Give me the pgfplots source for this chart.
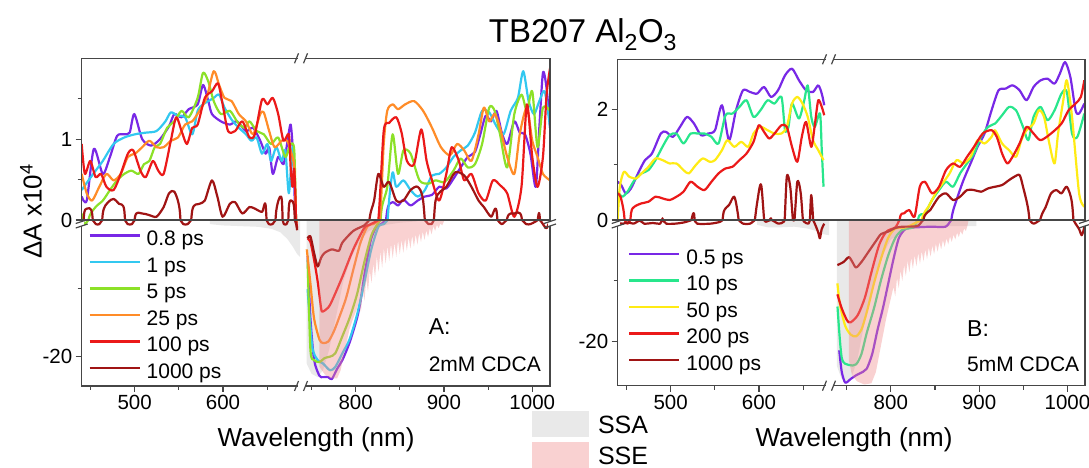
\documentclass[border=0pt]{standalone}
\usepackage{fontspec}
\setmainfont{Liberation Sans}
\usepackage{pgfplots}
\usepackage{pgfplotstable}
\pgfplotsset{compat=1.18}

\definecolor{purA}{RGB}{120,40,230}
\definecolor{cyanA}{RGB}{50,200,240}
\definecolor{limeA}{RGB}{140,225,40}
\definecolor{orA}{RGB}{255,140,40}
\definecolor{redA}{RGB}{235,25,25}
\definecolor{dredA}{RGB}{160,20,20}
\definecolor{grB}{RGB}{40,230,140}
\definecolor{yeB}{RGB}{255,235,20}
\definecolor{framec}{RGB}{70,70,70}
\definecolor{ssac}{RGB}{233,233,233}
\definecolor{ssec}{RGB}{240,140,140}

% ---------------- Panel A data ----------------
\pgfplotstableread{
x y
440.0 0.29
445.7 0.24
453.8 0.88
463.9 0.57
472.0 0.78
480.1 1.04
488.2 1.06
494.3 1.08
499.6 1.31
508.5 1.00
518.6 0.92
528.7 1.00
538.9 1.16
544.9 1.31
553.1 1.27
561.2 1.37
571.3 1.43
577.4 1.67
583.4 1.47
587.5 1.31
597.6 1.22
607.8 1.18
615.9 1.22
626.0 1.10
634.1 1.14
642.2 0.98
648.3 0.82
652.3 0.90
656.4 0.57
662.5 0.78
668.5 0.69
672.6 0.94
676.6 1.18
679.5 0.78
681.9 0.00
683.0 -0.6
nan nan
745.6 -5.3
748.8 -14.4
753.0 -20.5
759.0 -22.8
763.0 -23.0
769.0 -23.0
773.0 -23.3
779.0 -21.8
785.0 -20.5
793.0 -18.0
801.5 -14.4
805.5 -11.9
809.6 -8.3
813.7 -5.3
817.7 -2.7
823.8 -0.9
829.0 -0.6
835.8 0.12
841.9 0.22
848.0 0.18
854.1 0.25
862.2 0.18
870.3 0.24
878.4 0.29
886.5 0.31
894.6 0.41
902.7 0.39
910.8 0.51
918.9 0.65
927.0 0.78
935.1 0.84
941.2 1.06
947.3 1.29
953.4 1.22
959.4 1.35
965.5 1.08
971.6 0.94
979.7 1.22
985.8 1.08
991.8 1.06
997.9 0.82
1004.0 0.41
1008.0 1.14
1012.1 1.82
1016.2 1.63
1020.2 1.14
}\tApu

\pgfplotstableread{
x y
440.0 0.37
447.7 0.49
455.8 0.61
463.9 0.73
476.1 0.94
488.2 1.02
500.4 1.06
512.5 1.08
524.7 1.10
534.8 1.22
540.9 1.33
549.0 1.29
557.1 1.27
565.2 1.06
571.3 1.35
577.4 1.43
583.4 1.47
589.5 1.51
595.6 1.55
601.7 1.39
609.8 1.24
617.9 1.14
626.0 1.06
632.1 0.98
638.1 1.02
644.2 0.82
650.3 0.94
654.4 0.73
660.4 0.90
666.5 0.73
670.6 0.86
674.6 0.33
678.7 0.90
680.7 0.57
682.7 0.00
683.5 -0.4
nan nan
745.6 -10.1
750.8 -18.5
757.0 -20.5
763.0 -21.0
771.0 -22.0
777.0 -21.5
785.0 -19.5
793.0 -17.5
801.5 -13.9
809.6 -9.3
817.7 -4.3
825.8 -1.0
832.0 -0.6
837.9 0.24
841.9 0.59
846.0 0.41
854.1 0.49
862.2 0.37
870.3 0.29
878.4 0.37
886.5 0.55
894.6 0.57
902.7 0.65
910.8 0.78
918.9 0.86
927.0 0.92
935.1 1.08
943.2 1.35
951.3 1.33
959.4 1.16
967.5 1.06
975.6 1.35
983.7 1.51
989.8 1.84
995.9 1.47
1002.0 1.31
1008.0 1.47
1014.1 1.59
1020.2 1.14
}\tAcy

\pgfplotstableread{
x y
440.0 0.08
443.6 -0.6
447.7 0.00
455.8 0.16
463.9 0.24
472.0 0.37
480.1 0.49
488.2 0.57
496.3 0.61
504.4 0.57
510.5 0.69
516.6 0.73
522.7 0.90
528.7 0.94
536.8 1.14
544.9 1.22
553.1 1.35
561.2 1.27
571.3 1.51
577.4 1.82
583.4 1.71
589.5 1.47
597.6 1.31
607.8 1.35
615.9 1.22
624.0 1.14
630.0 1.22
638.1 1.10
646.2 1.06
654.4 0.94
662.5 1.02
670.6 0.78
676.6 0.94
680.7 0.86
682.7 0.00
683.5 -0.4
nan nan
745.6 -5.8
748.8 -19.0
752.9 -20.5
759.0 -20.8
765.0 -20.2
771.0 -20.0
777.0 -19.5
785.0 -17.0
793.0 -14.4
801.5 -10.9
809.6 -6.3
817.7 -2.3
823.8 -0.8
829.0 0.1
835.8 0.41
841.9 1.06
848.0 0.57
854.1 0.86
862.2 0.82
872.3 0.49
882.5 0.45
890.5 0.49
900.7 0.47
910.8 0.61
918.9 0.76
927.0 0.65
935.1 0.69
943.2 0.94
951.3 1.39
957.4 1.35
963.5 1.06
971.6 0.65
979.7 1.31
987.8 1.55
993.9 1.35
1000.0 1.59
1006.0 0.90
1012.1 1.39
1020.2 1.35
}\tAli

\pgfplotstableread{
x y
440.0 0.57
445.7 0.33
451.8 0.24
459.9 0.41
468.0 0.57
476.1 0.49
484.2 0.57
492.3 0.78
500.4 0.82
508.5 0.90
516.6 0.98
524.7 0.90
532.8 0.90
540.9 0.98
549.0 1.02
557.1 1.18
565.2 1.22
573.3 1.35
581.4 1.51
589.5 1.84
595.6 1.67
601.7 1.51
609.8 1.47
617.9 1.31
626.0 1.22
634.1 1.06
642.2 1.31
646.2 1.33
652.3 1.10
658.4 0.90
666.5 0.98
672.6 0.98
676.6 0.86
680.7 0.65
682.7 0.00
683.5 -0.4
nan nan
744.7 -4.3
748.8 -9.3
752.9 -14.4
759.0 -17.5
763.0 -18.0
769.0 -17.8
775.0 -16.4
781.0 -14.4
789.2 -11.4
797.3 -7.3
805.5 -3.3
813.6 -0.9
820.0 -0.6
827.7 0.05
831.8 0.94
835.8 1.35
841.9 1.43
848.0 1.37
856.1 1.43
866.2 1.47
876.4 1.35
886.5 1.14
896.6 0.90
906.8 0.80
914.9 0.94
923.0 0.86
931.1 0.73
939.2 1.06
945.2 1.39
951.3 1.22
957.4 1.31
963.5 1.14
971.6 0.78
979.7 0.57
985.8 1.06
993.9 1.39
1000.0 0.98
1006.0 0.78
1012.1 0.57
1020.2 0.49
}\tAor

\pgfplotstableread{
x y
440.0 0.94
443.6 0.57
449.7 0.73
455.8 0.53
461.9 0.57
468.0 0.41
476.1 0.37
484.2 0.57
492.3 0.82
498.4 0.86
506.5 0.61
512.5 0.53
520.6 0.73
526.7 0.61
532.8 0.57
540.9 0.98
547.0 1.27
553.1 1.10
559.1 0.94
565.2 1.14
571.3 1.18
579.4 1.51
587.5 1.59
594.4 1.69
599.6 1.43
605.7 1.10
613.8 1.10
621.9 1.22
630.0 1.02
636.1 1.06
644.2 1.49
650.3 1.43
656.4 1.51
662.5 1.31
668.5 0.98
674.6 1.06
676.6 0.65
678.7 0.41
680.7 0.63
682.7 0.00
684.0 -1.2
nan nan
745.5 -2.7
748.8 -3.2
752.9 -5.8
757.0 -9.0
761.0 -13.0
763.0 -13.4
769.0 -12.8
773.0 -11.9
785.0 -8.3
797.3 -4.3
809.6 -1.2
815.7 -0.7
825.7 0.0
831.8 1.10
837.9 1.20
846.0 1.27
852.0 1.08
858.1 0.73
866.2 0.69
874.3 1.12
880.4 0.73
886.5 0.49
894.6 0.24
902.7 0.57
908.8 0.90
916.9 0.73
923.0 0.49
931.1 0.57
939.2 0.33
947.3 0.24
955.4 0.49
963.5 0.43
971.6 0.33
979.7 0.04
987.8 0.41
993.9 1.43
1000.0 0.78
1006.0 0.41
1012.1 0.78
1016.2 1.55
1020.2 1.88
}\tAre

\pgfplotstableread{
x y
440.0 -0.6
442.5 0.05
445.7 0.14
451.8 0.08
456.0 -0.6
460.0 -0.6
463.9 0.08
470.0 0.22
476.1 0.26
482.2 0.20
488.2 0.12
492.0 -0.6
497.0 -0.6
500.4 0.04
508.5 0.08
516.6 0.06
524.7 0.04
532.8 0.16
538.9 0.33
545.0 0.35
551.0 0.12
555.0 -0.6
560.0 -0.6
565.2 0.12
573.3 0.20
579.4 0.24
587.5 0.49
593.6 0.29
599.6 0.04
607.8 0.20
613.8 0.22
621.9 0.08
630.0 0.16
636.1 0.14
644.2 0.10
648.3 0.18
652.0 -0.6
656.0 -0.6
660.4 0.12
666.5 0.26
669.0 -0.6
672.0 -0.6
674.6 0.16
677.6 0.24
680.7 0.14
682.7 -0.5
684.0 -1.5
nan nan
745.5 -2.7
748.8 -2.4
752.9 -4.8
757.0 -6.8
761.0 -5.5
765.0 -4.8
773.0 -4.3
781.0 -4.5
785.0 -3.3
797.3 -1.6
809.6 -0.8
815.6 0.0
820.9 0.24
825.7 0.57
831.8 0.41
837.9 0.47
846.0 0.24
854.1 0.24
862.2 0.37
870.3 0.41
876.4 0.24
882.5 -0.6
886.0 -0.6
890.5 0.24
902.7 0.41
912.8 0.59
923.0 0.55
931.1 0.41
939.2 0.24
945.2 0.16
953.4 0.04
959.4 0.12
965.5 -0.6
971.6 0.02
979.7 0.08
987.8 0.04
993.0 -0.6
998.0 -0.6
1004.0 -0.2
1008.0 0.08
1012.1 -0.6
1016.2 -1.2
1020.2 0.0
}\tAdr

\pgfplotstableread{
x y
585 -0.6
600 -0.8
620 -0.9
640 -1.0
655 -1.3
665 -1.8
673 -2.8
679 -3.9
684 -5.0
687.2 -5.4
}\tAssaL

\pgfplotstableread{
x y
744.5 -21.0
750 -22.5
757 -23.0
763 -22.0
770 -19.0
778 -14.0
786 -9.0
795 -5.5
805 -3.0
815 -1.6
830 -0.8
850 -0.4
870 -0.2
}\tAssaR

\pgfplotstableread{
x y
759 -21.5
765 -22.6
772 -23.2
779 -23.2
783 -22.0
787 -19.5
793 -16.0
797 -14.5
801.5 -13.0
804 -11.8
806 -13.5
808 -10.2
810 -11.8
812 -8.6
814 -10.5
816 -7.4
818 -9.2
820 -6.4
822 -8.4
824 -5.3
826 -7.6
828 -4.6
830 -7.0
832 -4.1
834 -6.4
836 -3.8
838 -6.0
840 -3.5
842 -5.6
844 -3.3
846 -5.4
848 -3.0
850 -5.0
852 -2.9
854 -4.8
856 -2.7
858 -4.5
860 -2.5
862 -4.2
864 -2.3
866 -3.9
868 -2.1
870 -3.6
872 -1.9
874 -3.2
876 -1.7
878 -2.9
880 -1.5
882 -2.5
884 -1.2
886 -2.1
888 -0.9
890 -1.6
892 -0.7
894 -1.2
896 -0.5
898 -0.8
900 -0.2
901 0
}\tAsse

% ---------------- Panel B data ----------------
\pgfplotstableread{
x y
440.0 0.69
444.0 0.63
449.1 0.48
455.1 0.57
463.0 0.84
470.9 1.08
478.8 1.20
488.8 1.56
494.7 1.59
502.6 1.50
510.6 1.68
518.5 1.86
526.4 1.74
534.3 1.53
542.3 1.56
550.2 1.62
558.1 2.07
566.1 1.44
574.0 1.98
581.9 2.34
589.8 2.31
597.8 2.28
605.7 2.40
613.6 2.22
621.6 2.34
629.5 2.61
637.4 2.73
645.3 2.52
653.3 2.34
661.2 2.31
667.1 2.43
671.1 2.28
673.9 2.07
nan nan
741.6 -21.4
744.4 -24.9
748.4 -26.7
754.5 -26.1
760.6 -25.5
768.7 -24.9
772.8 -24.4
778.9 -22.0
785.0 -18.0
791.0 -14.5
797.1 -10.4
803.2 -6.3
809.3 -2.9
817.4 -1.4
829.5 -1.2
845.7 -1.1
862.0 -1.1
868.5 0.0
874.4 0.36
882.3 0.72
890.3 1.02
898.2 1.32
906.1 1.56
914.1 1.98
922.0 2.34
929.9 2.37
937.8 2.43
945.8 2.34
953.7 2.16
961.6 2.40
969.6 2.52
977.5 2.55
985.4 2.46
991.4 2.64
997.3 2.85
1003.3 2.58
1009.2 1.98
1013.2 1.92
1019.1 2.10
}\tBpu

\pgfplotstableread{
x y
440.0 0.51
445.2 0.42
451.1 0.51
459.0 0.72
467.0 0.84
474.9 0.90
482.8 1.08
490.7 1.32
498.7 1.53
506.6 1.56
514.5 1.38
522.5 1.56
530.4 1.56
538.3 1.56
546.2 1.50
554.2 1.38
562.1 1.89
570.0 1.92
577.9 2.04
585.9 2.16
593.8 1.86
601.7 1.98
609.7 2.16
617.6 2.10
625.5 2.22
629.5 1.62
633.4 1.68
637.4 2.10
645.3 1.83
651.3 2.16
655.2 2.43
659.2 1.86
663.2 1.68
669.1 1.92
671.1 1.26
673.1 0.60
nan nan
739.6 -14.2
744.4 -22.6
752.5 -23.8
760.6 -23.7
766.7 -22.0
772.8 -18.5
780.9 -14.5
789.0 -9.8
797.1 -5.8
805.2 -2.9
813.3 -1.6
825.5 -1.2
830.8 0.0
838.7 0.12
846.7 0.36
854.6 0.54
862.5 0.69
870.5 0.60
878.4 0.84
886.3 1.02
894.2 1.20
902.2 1.50
910.1 1.68
918.0 1.74
926.0 1.89
933.9 2.04
941.8 1.98
949.7 1.68
955.7 1.44
961.6 1.86
969.6 2.04
977.5 1.80
985.4 1.98
993.3 2.28
999.3 2.31
1005.2 1.56
1011.2 1.50
1019.1 1.92
}\tBgr

\pgfplotstableread{
x y
440.0 0.0
442.4 0.60
447.1 0.87
453.1 0.78
461.0 0.75
467.0 0.84
474.9 0.96
482.8 1.11
490.7 1.08
498.7 1.02
506.6 1.02
514.5 0.90
520.5 0.84
528.4 0.99
536.3 1.11
544.3 1.05
550.2 1.08
558.1 1.26
564.1 1.44
572.0 1.32
579.9 1.41
587.9 1.32
593.8 1.56
601.7 1.68
609.7 1.62
617.6 1.56
625.5 1.56
631.5 1.68
637.4 2.10
643.4 2.22
649.3 2.10
655.2 1.86
661.2 1.44
667.1 1.26
673.1 1.08
nan nan
739.5 -10.4
742.4 -13.9
748.4 -17.4
754.5 -18.8
760.6 -19.1
766.7 -18.0
772.8 -15.1
780.9 -10.4
789.0 -6.3
797.1 -2.9
805.2 -1.4
817.4 -1.2
834.8 0.0
842.7 0.24
850.6 0.48
858.6 0.66
866.5 0.84
874.4 1.08
882.3 1.02
890.3 1.14
898.2 1.44
906.1 1.38
914.1 1.50
918.0 1.62
926.0 1.38
933.9 1.26
941.8 1.14
947.8 1.44
953.7 1.62
961.6 1.74
967.6 1.98
973.5 1.86
979.5 1.38
985.4 1.02
989.4 1.56
995.3 2.16
999.3 2.52
1005.2 1.86
1013.2 0.48
1019.1 0.24
}\tBye

\pgfplotstableread{
x y
440.0 0.48
443.2 0.42
447.1 0.12
451.1 -0.6
455.1 0.12
459.0 0.24
467.0 0.30
474.9 0.33
482.8 0.42
490.7 0.39
498.7 0.36
506.6 0.42
514.5 0.51
522.5 0.69
530.4 0.60
538.3 0.54
546.2 0.69
554.2 0.84
562.1 0.93
570.0 0.96
577.9 1.08
585.9 1.20
593.8 1.41
599.8 1.71
605.7 1.59
611.6 1.47
617.6 1.56
625.5 1.71
631.5 1.68
637.4 1.32
643.4 1.05
648.5 1.50
653.3 1.77
659.2 1.32
663.2 1.71
667.1 2.16
671.1 2.04
673.9 1.89
nan nan
739.5 -12.2
744.4 -14.5
750.5 -16.5
754.5 -16.8
762.6 -15.6
770.7 -12.7
778.9 -8.1
787.0 -4.0
795.1 -1.9
805.2 -1.2
810.0 0.0
815.0 0.12
820.9 0.18
826.9 0.06
832.8 0.60
838.7 0.69
846.7 0.48
854.6 0.60
862.5 0.90
870.5 1.02
878.4 0.96
886.3 1.14
894.2 1.32
904.1 1.56
914.1 1.62
920.0 1.50
926.0 1.20
931.9 1.02
937.8 1.14
945.8 1.38
953.7 1.68
961.6 1.56
969.6 1.44
981.4 1.56
993.3 1.74
1001.3 1.98
1009.2 2.10
1015.2 2.22
1019.1 2.52
}\tBre

\pgfplotstableread{
x y
440.0 -0.5
446.0 -0.6
452.0 -0.4
458.0 -0.6
465.0 -0.1
470.0 -0.6
480.0 -0.5
488.0 -0.6
490.7 0.03
495.0 -0.6
505.0 -0.6
515.0 -0.4
522.0 -0.1
526.4 0.12
530.0 -0.6
545.0 -0.6
556.0 -0.3
560.1 0.15
566.1 0.27
572.0 0.42
576.0 0.12
582.0 -0.6
590.0 -0.6
597.8 0.30
602.5 0.63
607.7 -0.3
613.6 0.03
622.0 -0.6
628.0 -0.3
631.5 0.78
635.4 0.60
639.4 -0.1
643.4 0.69
647.3 0.48
651.3 -0.3
656.0 -0.6
659.2 0.45
663.2 -0.6
667.0 -2.0
669.0 -3.0
671.0 -1.5
673.9 -0.6
nan nan
739.5 -7.4
746.4 -6.9
752.5 -6.1
756.5 -6.9
760.6 -7.8
766.7 -6.9
774.8 -5.2
782.9 -3.5
789.0 -2.3
797.1 -1.9
805.2 -1.3
813.3 -1.1
830.0 -1.0
836.8 0.0
844.7 0.18
854.6 0.42
862.5 0.48
870.5 0.36
878.4 0.42
886.3 0.54
894.2 0.54
902.2 0.51
910.1 0.57
918.0 0.60
926.0 0.63
933.9 0.72
939.8 0.78
945.8 0.81
949.7 0.60
955.7 0.18
961.6 -0.6
969.6 0.03
975.5 0.24
981.4 0.48
987.4 0.54
993.3 0.48
999.3 0.60
1005.2 0.30
1009.2 -0.6
1013.2 -1.5
1016.2 -2.5
1019.1 -1.2
}\tBdr

\pgfplotstableread{
x y
598 -0.8
610 -1.2
625 -1.2
640 -1.1
655 -1.4
665 -1.8
672 -2.3
679.3 -2.5
}\tBssaL

\pgfplotstableread{
x y
739 -24.0
744 -26.0
750 -26.5
755 -26.0
762 -23.0
770 -17.0
780 -10.5
790 -6.0
800 -3.2
815 -1.8
830 -1.2
850 -1.0
880 -1.0
897 -1.0
}\tBssaR

\pgfplotstableread{
x y
752.5 -23.0
756 -25.5
762 -26.5
770 -27.0
778 -26.8
783 -25.0
787 -22.0
791 -19.0
795 -16.0
799 -13.5
803 -11.0
805 -12.5
807 -9.5
809 -11.2
811 -8.3
813 -10.0
815 -7.4
817 -9.2
819 -6.7
821 -8.6
823 -6.2
825 -8.0
827 -5.8
829 -7.6
831 -5.4
833 -7.2
835 -5.1
837 -6.8
839 -4.8
841 -6.4
843 -4.5
845 -6.0
847 -4.2
849 -5.6
851 -3.9
853 -5.2
855 -3.6
857 -4.8
859 -3.3
861 -4.4
863 -3.0
865 -4.0
867 -2.7
869 -3.6
871 -2.4
873 -3.2
875 -2.1
877 -2.8
879 -1.8
881 -2.4
883 -1.4
885 -1.8
887 -0.8
888 0
}\tBsse

\pgfplotsset{
  brk/.style={scale only axis, enlargelimits=false, axis line style={draw=none},
    anchor=south west,
    tick align=outside, major tick length=6pt, minor tick length=4pt,
    tick style={line width=1.1pt, draw=framec},
    tick label style={font=\fontsize{20.5}{24}\selectfont},
    unbounded coords=jump, no markers, clip=true,
    every axis plot/.append style={line width=2.2pt, line join=round}},
  sersleg/.style={legend cell align=left,
    legend style={anchor=north west, draw=none, fill=none, inner sep=0pt, outer sep=0pt,
      font=\fontsize{21}{25}\selectfont, row sep=7pt, column sep=6pt,
      nodes={inner sep=0pt, text height=15pt, text depth=4.5pt}},
    legend image code/.code={\draw[##1] (0pt,5pt) -- (50pt,5pt);}},
  ssafill/.style={fill=ssac, draw=none, line width=0pt},
  ssefill/.style={fill=ssec, fill opacity=0.4, draw=none, line width=0pt},
  sm/.style={smooth, tension=0.45},
}

\newcommand\plotA[1]{%
  \addplot[purA,sm,#1] table {\tApu};
  \addplot[cyanA,sm,#1] table {\tAcy};
  \addplot[limeA,sm,#1] table {\tAli};
  \addplot[orA,sm,#1] table {\tAor};
  \addplot[redA,sm,#1] table {\tAre};
  \addplot[dredA,sm,#1] table {\tAdr};}
\newcommand\plotB[1]{%
  \addplot[purA,sm,#1] table {\tBpu};
  \addplot[grB,sm,#1] table {\tBgr};
  \addplot[yeB,sm,#1] table {\tBye};
  \addplot[redA,sm,#1] table {\tBre};
  \addplot[dredA,sm,#1] table {\tBdr};}

\newcommand\brkH[2]{%
  \fill[white] (#1-3.5pt,#2-2pt) rectangle (#1+3.5pt,#2+2pt);
  \draw[framec,line width=1.2pt] (#1-6.5pt,#2-5pt)--(#1-2.5pt,#2+5pt) (#1+2.5pt,#2-5pt)--(#1+6.5pt,#2+5pt);}
\newcommand\brkV[2]{%
  \fill[white] (#1-2pt,#2-6pt) rectangle (#1+2pt,#2-1pt);
  \draw[framec,line width=1.2pt] (#1-6pt,#2-3.5pt)--(#1+6pt,#2+0.5pt) (#1-6pt,#2-8pt)--(#1+6pt,#2-4pt);}

\begin{document}
\begin{tikzpicture}
\path[use as bounding box] (0,0) rectangle (1089pt,468pt);

% ===================== Panel A =====================
\begin{axis}[brk, at={(81.7pt,248pt)}, width=218.3pt, height=161.7pt,
  xmin=440, xmax=687.2, ymin=0, ymax=2.0,
  xtick=\empty, ytick={0,1}, yticklabels={0,1}, minor ytick={0.5,1.5}, ytick pos=left]
  \plotA{}
\end{axis}
\begin{axis}[brk, at={(300pt,248pt)}, width=250pt, height=161.7pt,
  xmin=737, xmax=1020.1, ymin=0, ymax=2.0, xtick=\empty, ytick=\empty]
  \plotA{}
\end{axis}
\begin{axis}[brk, sersleg, at={(81.7pt,82pt)}, width=218.3pt, height=166pt,
  xmin=440, xmax=687.2, ymin=-24.3, ymax=0,
  xtick={500,600}, xticklabels={500,600}, minor xtick={450,550,650},
  ytick={-20}, yticklabels={-20}, minor ytick={-10}, xtick pos=bottom, ytick pos=left,
  legend style={at={(axis description cs:0.031,0.935)}}]
  \addplot[ssafill, forget plot] table {\tAssaL} \closedcycle;
  \plotA{}
  \legend{0.8 ps,1 ps,5 ps,25 ps,100 ps,1000 ps}
\end{axis}
\begin{axis}[brk, at={(300pt,82pt)}, width=250pt, height=166pt,
  xmin=737, xmax=1020.1, ymin=-24.3, ymax=0,
  xtick={800,900,1000}, xticklabels={800,900,1000}, minor xtick={750,850,950},
  ytick=\empty, xtick pos=bottom,
  legend cell align=left,
  legend style={at={(axis description cs:0.928,-0.145)}, anchor=north west, draw=none, fill=none,
    inner sep=0pt, outer sep=0pt, font=\fontsize{25}{29}\selectfont, row sep=4pt, column sep=9pt,
    nodes={inner sep=0pt, text height=23pt, text depth=1pt}},
  legend image code/.code={\fill[#1] (0pt,-15pt) rectangle (57pt,11pt);}]
  \addplot[ssafill, forget plot] table {\tAssaR} \closedcycle;
  \plotA{forget plot}
  \addplot[ssefill, forget plot] table {\tAsse} \closedcycle;
  \addlegendimage{fill=ssac, draw=none}
  \addlegendentry{SSA}
  \addlegendimage{fill=ssec, fill opacity=0.4, draw=none}
  \addlegendentry{SSE}
\end{axis}

% ===================== Panel B =====================
\begin{axis}[brk, at={(617.7pt,248pt)}, width=211.3pt, height=160.7pt,
  xmin=440, xmax=679.3, ymin=0, ymax=2.9,
  xtick=\empty, ytick={0,2}, yticklabels={0,2}, minor ytick={1}, ytick pos=left]
  \plotB{}
\end{axis}
\begin{axis}[brk, at={(829pt,248pt)}, width=256pt, height=160.7pt,
  xmin=730, xmax=1019.9, ymin=0, ymax=2.9, xtick=\empty, ytick=\empty]
  \plotB{}
\end{axis}
\begin{axis}[brk, sersleg, at={(617.7pt,82.3pt)}, width=211.3pt, height=165.7pt,
  xmin=440, xmax=679.3, ymin=-27.2, ymax=0,
  xtick={500,600}, xticklabels={500,600}, minor xtick={450,550,650},
  ytick={-20}, yticklabels={-20}, minor ytick={-10}, xtick pos=bottom, ytick pos=left,
  legend style={at={(axis description cs:0.050,0.824)}}]
  \addplot[ssafill, forget plot] table {\tBssaL} \closedcycle;
  \plotB{}
  \legend{0.5 ps,10 ps,50 ps,200 ps,1000 ps}
\end{axis}
\begin{axis}[brk, at={(829pt,82.3pt)}, width=256pt, height=165.7pt,
  xmin=730, xmax=1019.9, ymin=-27.2, ymax=0,
  xtick={800,900,1000}, xticklabels={800,900,1000}, minor xtick={750,850,950},
  ytick=\empty, xtick pos=bottom]
  \addplot[ssafill, forget plot] table {\tBssaR} \closedcycle;
  \plotB{forget plot}
  \addplot[ssefill, forget plot] table {\tBsse} \closedcycle;
\end{axis}

% ===================== frames and breaks =====================
\draw[framec, line width=1.3pt] (81.7pt,82pt) rectangle (550pt,409.7pt);
\draw[framec, line width=1.3pt] (81.7pt,248pt) -- (550pt,248pt);
\draw[framec, line width=1.3pt] (617.7pt,82.3pt) rectangle (1085pt,408.7pt);
\draw[framec, line width=1.3pt] (617.7pt,248pt) -- (1085pt,248pt);
\brkH{301pt}{409.7pt}
\brkH{301pt}{82pt}
\brkH{829pt}{408.7pt}
\brkH{829pt}{82.3pt}
\brkV{81.7pt}{248pt}
\brkV{550pt}{248pt}
\brkV{617.7pt}{248pt}
\brkV{1085pt}{248pt}

% ===================== texts =====================
\node[anchor=base, inner sep=0pt, font=\fontsize{33}{38}\selectfont] at (583pt,425pt) {TB207 Al\textsubscript{2}O\textsubscript{3}};
\node[rotate=90, inner sep=0pt, font=\fontsize{26}{30}\selectfont] at (31pt,256.5pt) {ΔA x10\textsuperscript{4}};
\node[anchor=base, inner sep=0pt, font=\fontsize{26}{30}\selectfont] at (316pt,21.3pt) {Wavelength (nm)};
\node[anchor=base, inner sep=0pt, font=\fontsize{26}{30}\selectfont] at (854pt,21.3pt) {Wavelength (nm)};
\node[anchor=base west, inner sep=0pt, font=\fontsize{23}{27}\selectfont] at (428.6pt,133pt) {A:};
\node[anchor=base west, inner sep=0pt, font=\fontsize{21}{25}\selectfont] at (428.6pt,96.3pt) {2mM CDCA};
\node[anchor=base west, inner sep=0pt, font=\fontsize{23}{27}\selectfont] at (967pt,131.3pt) {B:};
\node[anchor=base west, inner sep=0pt, font=\fontsize{21}{25}\selectfont] at (967pt,96.3pt) {5mM CDCA};
\end{tikzpicture}
\end{document}
